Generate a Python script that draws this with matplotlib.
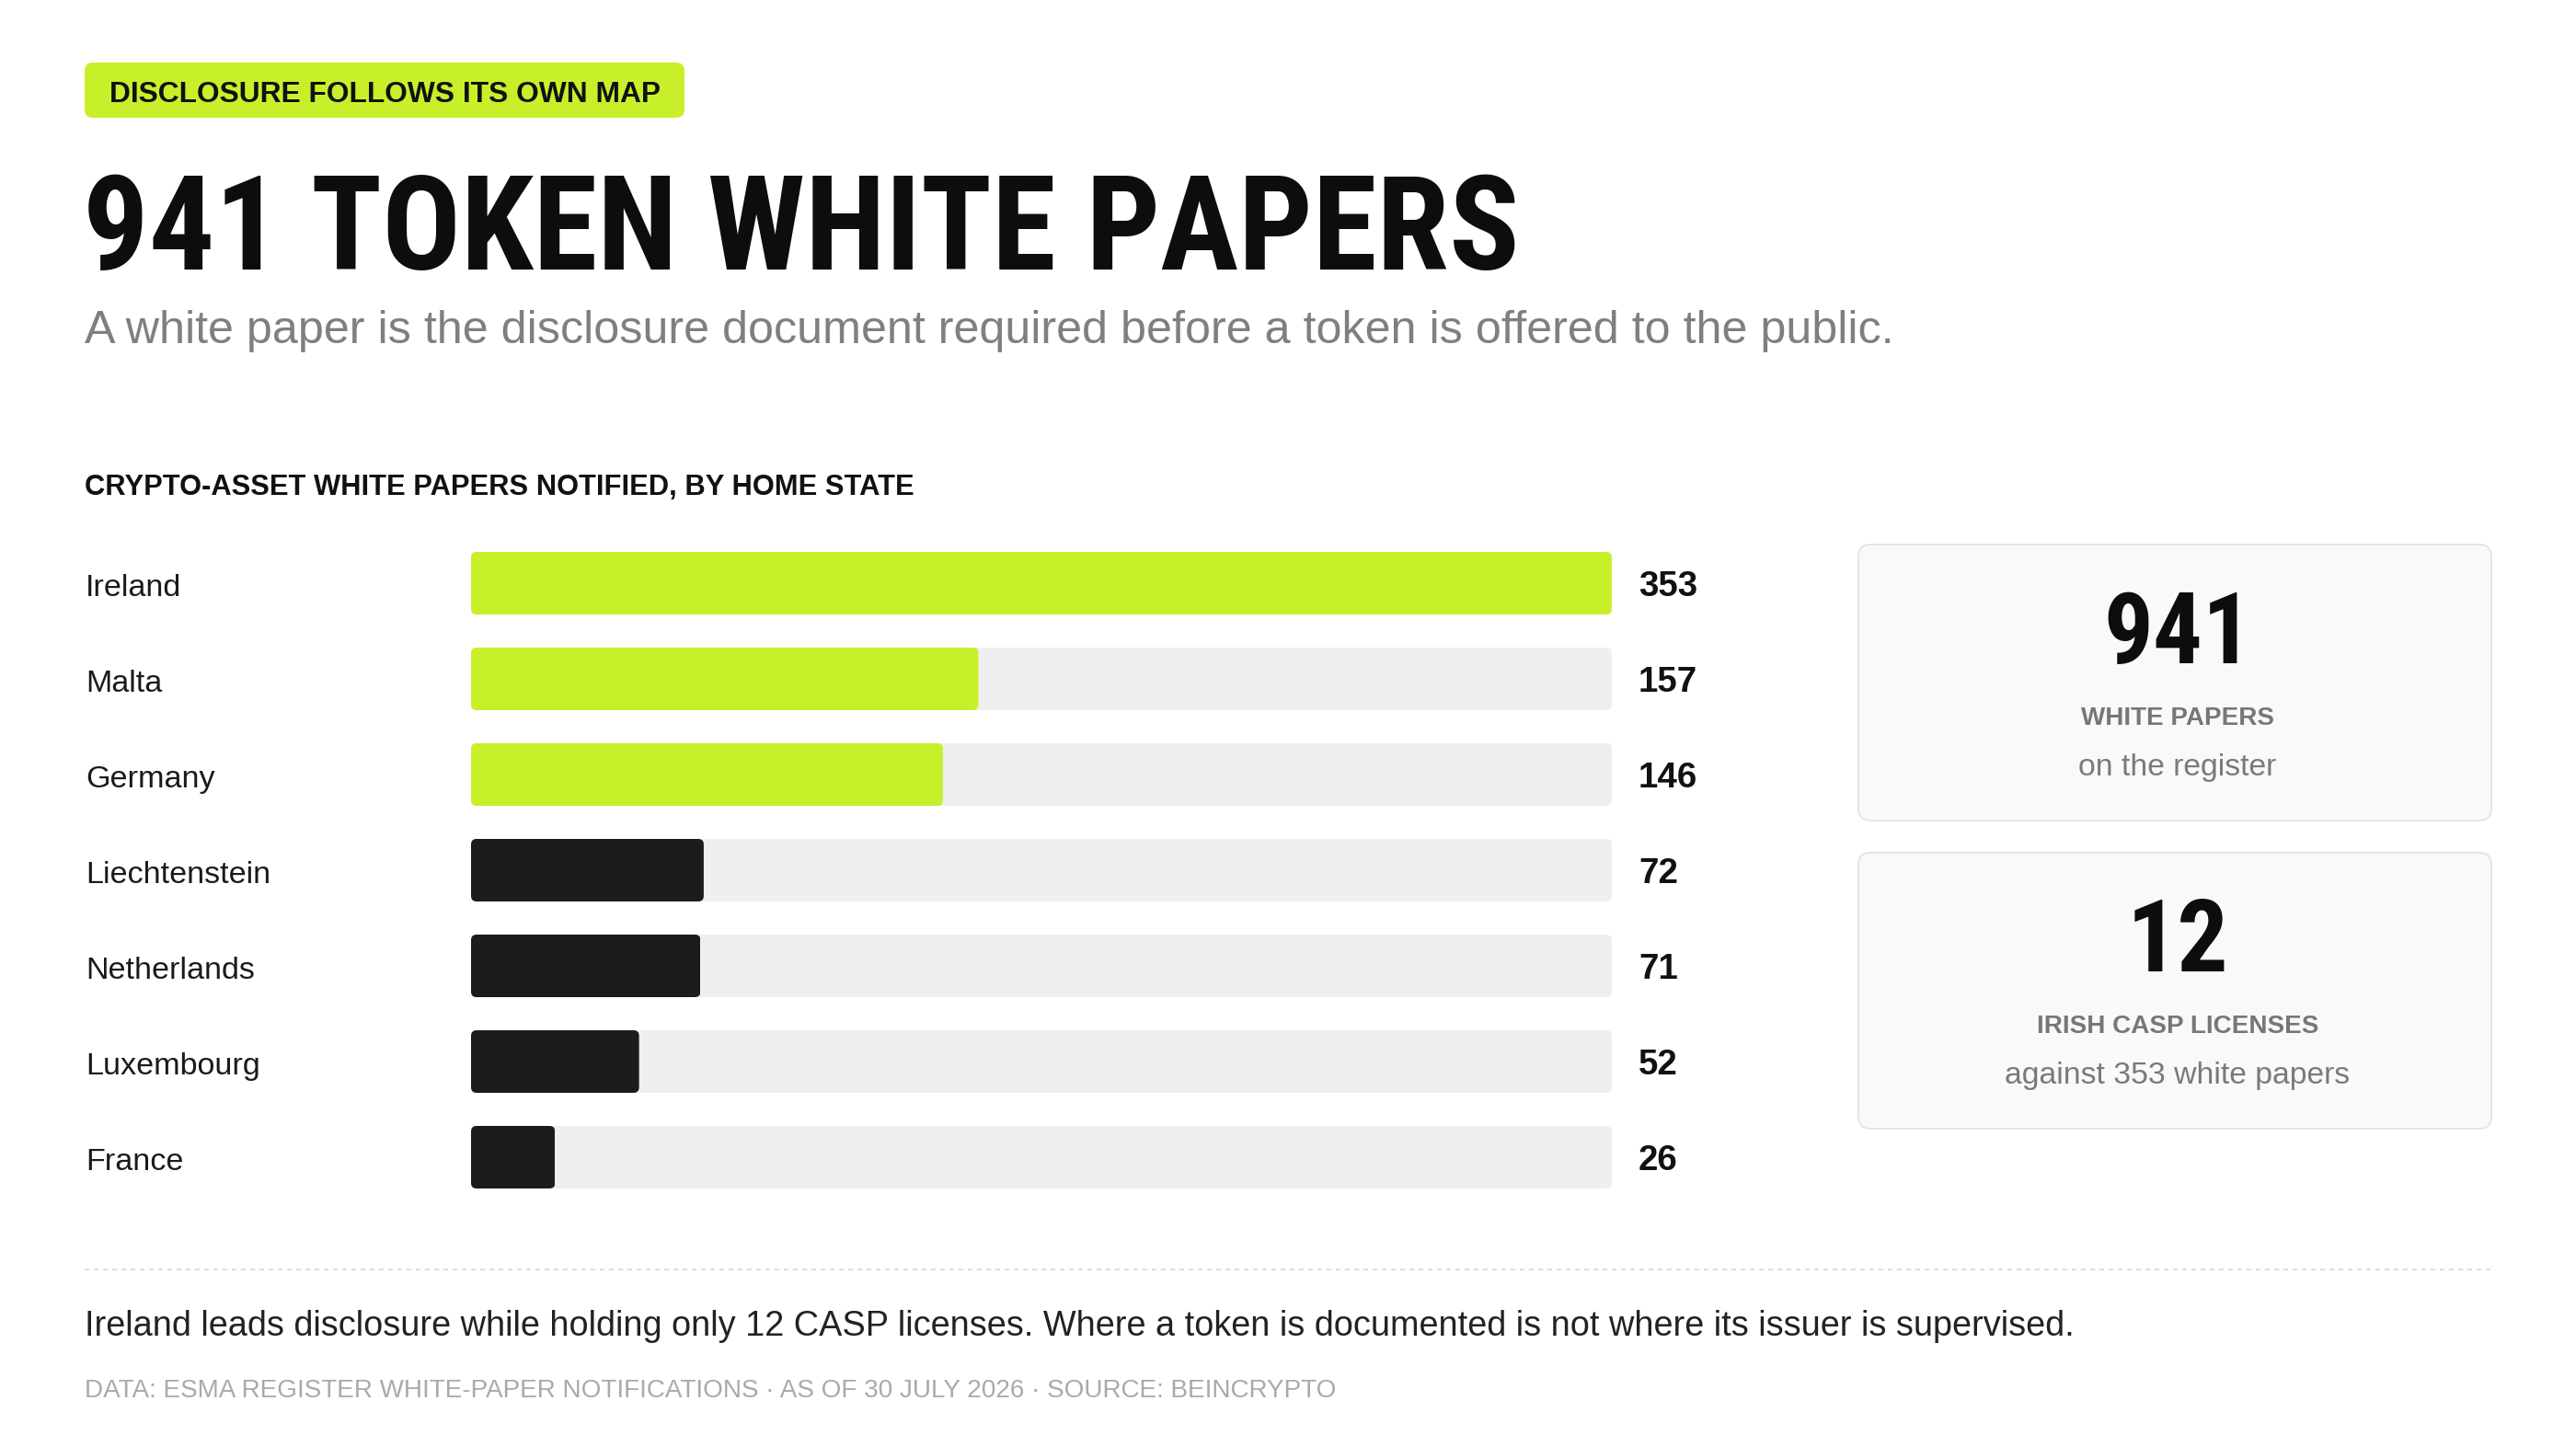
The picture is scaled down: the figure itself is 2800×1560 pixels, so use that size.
import os
import matplotlib
matplotlib.use("Agg")
import matplotlib.pyplot as plt
from matplotlib import font_manager as fm, transforms as mtransforms
from matplotlib.patches import FancyBboxPatch
from matplotlib.lines import Line2D
from matplotlib.textpath import TextPath

# ---------------- data ----------------
countries = ["Ireland", "Malta", "Germany", "Liechtenstein", "Netherlands", "Luxembourg", "France"]
values = [353, 157, 146, 72, 71, 52, 26]
n_highlight = 3

kicker = "DISCLOSURE FOLLOWS ITS OWN MAP"
title = "941 TOKEN WHITE PAPERS"
subtitle = "A white paper is the disclosure document required before a token is offered to the public."
section = "CRYPTO-ASSET WHITE PAPERS NOTIFIED, BY HOME STATE"
stat_values = ["941", "12"]
stat_labels = ["WHITE PAPERS", "IRISH CASP LICENSES"]
stat_notes = ["on the register", "against 353 white papers"]
takeaway = ("Ireland leads disclosure while holding only 12 CASP licenses. "
            "Where a token is documented is not where its issuer is supervised.")
source = "DATA: ESMA REGISTER WHITE-PAPER NOTIFICATIONS \u00b7 AS OF 30 JULY 2026 \u00b7 SOURCE: BEINCRYPTO"

# ---------------- style ----------------
LIME = "#C8F02A"
DARK = "#1C1C1C"
TRACK = "#EFEFEF"
W, H, DPI = 2800, 1560, 100
plt.rcParams["lines.scale_dashes"] = False

REG = fm.FontProperties(family=["Liberation Sans", "DejaVu Sans"], weight="normal")
BOLD = fm.FontProperties(family=["Liberation Sans", "DejaVu Sans"], weight="bold")


def _weight(e):
    w = e.weight
    if isinstance(w, str):
        return {"bold": 700, "heavy": 800, "black": 900, "semibold": 600,
                "demibold": 600, "extra bold": 800, "normal": 400,
                "regular": 400}.get(w.lower(), 400)
    return int(w)


def find_condensed_bold():
    order = ["Liberation Sans Narrow", "Roboto Condensed", "Archivo Narrow",
             "Open Sans Condensed", "Noto Sans", "Noto Sans Condensed",
             "DejaVu Sans", "Open Sans", "Roboto", "Inter"]
    named_cond = {"Liberation Sans Narrow", "Roboto Condensed", "Archivo Narrow",
                  "Open Sans Condensed", "Noto Sans Condensed"}
    for fam in order:
        for e in fm.fontManager.ttflist:
            if e.name != fam:
                continue
            fn = os.path.basename(e.fname).lower()
            st = str(e.stretch).lower()
            bad = ("extra" in fn or "ultra" in fn or "semi" in fn)
            cond = fam in named_cond or "narrow" in fn or (
                ("condensed" in fn or st == "condensed") and not bad)
            ital = ("italic" in str(e.style).lower() or "oblique" in str(e.style).lower()
                    or "italic" in fn)
            if cond and not ital and 700 <= _weight(e) <= 800 and not bad:
                return e.fname
    return None


_cf = find_condensed_bold()
COND = fm.FontProperties(fname=_cf) if _cf else BOLD


def cap_ratio(fp):
    p = TextPath((0, 0), "H", size=100, prop=fp)
    return p.get_extents().height / 100.0


fig = plt.figure(figsize=(W / DPI, H / DPI), dpi=DPI, facecolor="white")
R = fig.canvas.get_renderer()
# pixel coordinates, origin at top-left
T = mtransforms.Affine2D().scale(1 / DPI, -1 / DPI).translate(0, H / DPI) + fig.dpi_scale_trans


def sized(t, cap_px, fp, target_w=None, w_weight=0.5):
    s_cap = cap_px / cap_ratio(fp) * 72.0 / DPI
    t.set_fontsize(s_cap)
    if target_w is None:
        return t
    w = t.get_window_extent(renderer=R).width
    s_w = s_cap * target_w / w
    t.set_fontsize(s_cap ** (1 - w_weight) * s_w ** w_weight)
    return t


def ptext(x, y, s, fp, color, cap, target_w=None, w_weight=0.5, ha="left"):
    t = fig.text(x, y, s, transform=T, fontproperties=fp, color=color,
                 ha=ha, va="baseline")
    return sized(t, cap, fp, target_w, w_weight)


# ---------------- header ----------------
fig.add_artist(FancyBboxPatch((92, 68), 652, 60, boxstyle="round,pad=0,rounding_size=9",
                              transform=T, facecolor=LIME, edgecolor="none"))
ptext(119, 111, kicker, BOLD, "#111111", 22, target_w=597, w_weight=0.6)
ptext(90, 293, title, COND, "#0D0D0D", 107, target_w=1552, w_weight=0.9)
ptext(92, 373, subtitle, REG, "#7F7F7F", 36, target_w=1968, w_weight=1.0)
ptext(92, 538, section, BOLD, "#111111", 19.3, target_w=898, w_weight=1.0)

# ---------------- bars ----------------
row0, pitch, bar_px = 634, 104, 68
n = len(countries)
ax_top = row0 - pitch / 2
ax_bot = row0 + (n - 0.5) * pitch
x0_px, x1_px = 512, 1752
ax = fig.add_axes([x0_px / W, 1 - ax_bot / H, (x1_px - x0_px) / W, (ax_bot - ax_top) / H])
xmax = max(values)
ax.set_xlim(0, xmax)
ax.set_ylim(n - 0.5, -0.5)
ax.axis("off")

ypos = list(range(n))
bh = bar_px / pitch
colors = [LIME if i < n_highlight else DARK for i in range(n)]
tracks = ax.barh(ypos, [xmax] * n, height=bh, color=TRACK, linewidth=0)
bars = ax.barh(ypos, values, height=bh, color=colors, linewidth=0)

r_px = 6
rx = r_px * xmax / (x1_px - x0_px)
ry = r_px / pitch
for rect in list(tracks) + list(bars):
    clip = FancyBboxPatch((rect.get_x(), rect.get_y()), rect.get_width(), rect.get_height(),
                          boxstyle=f"round,pad=0,rounding_size={rx}",
                          mutation_aspect=ry / rx, transform=ax.transData,
                          facecolor="none", edgecolor="none")
    rect.set_clip_path(clip)

lab_tr = mtransforms.blended_transform_factory(T, ax.transData) + \
    mtransforms.ScaledTranslation(0, -14 / DPI, fig.dpi_scale_trans)
for i, (c, v) in enumerate(zip(countries, values)):
    t = ax.text(93, i, c, transform=lab_tr, fontproperties=REG, color="#1A1A1A",
                ha="left", va="baseline")
    sized(t, 23.5, REG)
    t = ax.text(1781, i, f"{v}", transform=lab_tr, fontproperties=BOLD, color="#111111",
                ha="left", va="baseline")
    sized(t, 26.5, BOLD)

# ---------------- stat cards ----------------
card_x, card_w, card_h = 2020, 688, 300
card_tops = [592, 927]
cx = card_x + card_w / 2 + 3
label_w = [212, 309]
note_w = [215, 375]
num_w = [135, 99]
for k in range(2):
    top = card_tops[k]
    fig.add_artist(FancyBboxPatch((card_x, top), card_w, card_h,
                                  boxstyle="round,pad=0,rounding_size=13", transform=T,
                                  facecolor="#F9F9F9", edgecolor="#E4E4E4", linewidth=1.3))
    ptext(cx, top + 129, stat_values[k], COND, "#0D0D0D", 82, target_w=num_w[k],
          w_weight=0.3, ha="center")
    ptext(cx, top + 196, stat_labels[k], BOLD, "#777777", 19, target_w=label_w[k],
          w_weight=0.6, ha="center")
    ptext(cx, top + 251, stat_notes[k], REG, "#7A7A7A", 23, target_w=note_w[k],
          w_weight=1.0, ha="center")

# ---------------- footer ----------------
fig.add_artist(Line2D([92, 2708], [1380, 1380], transform=T, color="#DDDDDD",
                      linewidth=1.4, dashes=(3.6, 3.6)))
ptext(92, 1452, takeaway, REG, "#222222", 28, target_w=2166, w_weight=1.0)
ptext(92, 1519, source, REG, "#AAAAAA", 17, target_w=1362, w_weight=1.0)

fig.savefig("out.png", dpi=DPI, facecolor="white")
